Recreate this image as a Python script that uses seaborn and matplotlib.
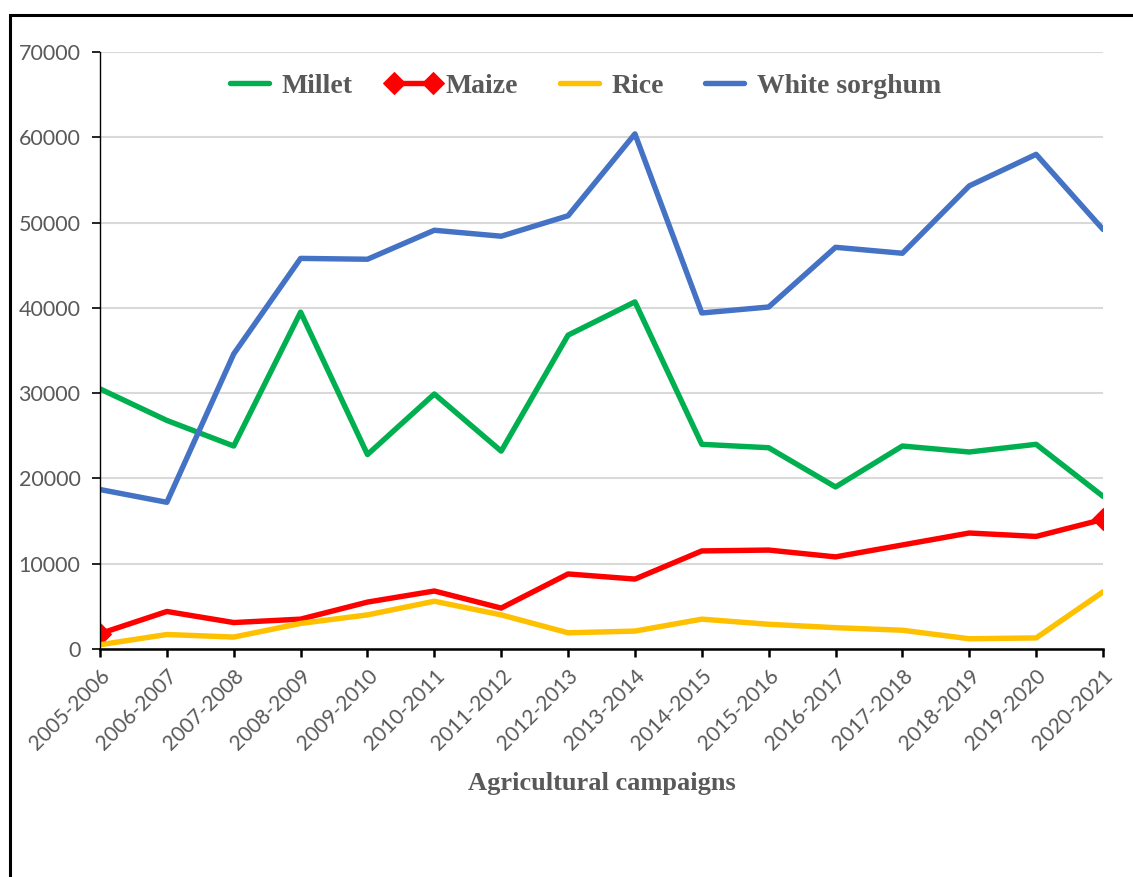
import matplotlib
matplotlib.use("Agg")
import matplotlib.pyplot as plt
from matplotlib.patches import Rectangle
import seaborn as sns
import pandas as pd

campaigns = ["2005-2006", "2006-2007", "2007-2008", "2008-2009", "2009-2010",
             "2010-2011", "2011-2012", "2012-2013", "2013-2014", "2014-2015",
             "2015-2016", "2016-2017", "2017-2018", "2018-2019", "2019-2020",
             "2020-2021"]
millet = [30500, 26800, 23800, 39500, 22800, 29900, 23200, 36800, 40700,
          24000, 23600, 19000, 23800, 23100, 24000, 17900]
maize = [1800, 4400, 3100, 3500, 5500, 6800, 4800, 8800, 8200,
         11500, 11600, 10800, 12200, 13600, 13200, 15200]
rice = [500, 1700, 1400, 3000, 4000, 5600, 4000, 1900, 2100,
        3500, 2900, 2500, 2200, 1200, 1300, 6700]
white_sorghum = [18700, 17200, 34600, 45800, 45700, 49100, 48400, 50800, 60400,
                 39400, 40100, 47100, 46400, 54300, 58000, 49200]

series_names = ["Millet", "Maize", "Rice", "White sorghum"]
colors = ["#00B050", "#FF0000", "#FFC000", "#4472C4"]

sns.set_theme(style="white")
plt.rcParams['font.family'] = ['Lato', 'DejaVu Sans']

fig = plt.figure(figsize=(11.33, 8.77), dpi=100)
ax = fig.add_axes([100/1133, 1-649/877, (1103-100)/1133, (649-52)/877])

x = list(range(len(campaigns)))
for name, vals, col in zip(series_names, [millet, maize, rice, white_sorghum], colors):
    df = pd.DataFrame({"x": x, "y": vals})
    kw = {}
    if name == "Maize":
        kw = dict(marker="D", markersize=11, markevery=[0, len(x)-1],
                  markeredgecolor=col, markerfacecolor=col)
    sns.lineplot(data=df, x="x", y="y", ax=ax, color=col, linewidth=3.9,
                 label=name, solid_capstyle="round", solid_joinstyle="round", **kw)

ax.set_xlim(0, len(campaigns)-1)
ax.set_ylim(0, 70000)
ax.set_yticks(range(0, 70001, 10000))
ax.set_xticks(x)
ax.set_xticklabels(campaigns, rotation=45, ha="right", rotation_mode="anchor",
                   color="#595959", fontsize=15)
ax.set_yticklabels([str(v) for v in range(0, 70001, 10000)], color="#595959", fontsize=15.5)
ax.grid(axis="y", color="#D9D9D9", linewidth=1.5)
ax.set_axisbelow(True)
for s in ["top", "right"]:
    ax.spines[s].set_visible(False)
ax.spines["left"].set_color("black")
ax.spines["left"].set_linewidth(1.0)
ax.spines["bottom"].set_color("black")
ax.spines["bottom"].set_linewidth(1.8)
ax.tick_params(axis="y", direction="out", length=6, width=1.2, color="black", left=True, pad=8)
ax.tick_params(axis="x", direction="out", length=6, width=1.8, color="black", bottom=True, pad=6)
ax.set_ylabel("")
ax.set_xlabel("Agricultural campaigns", fontsize=19, fontweight="bold",
              color="#595959", family="Liberation Serif", labelpad=13)

leg = ax.legend(loc="upper center", bbox_to_anchor=(0.48, 1.006), ncol=4, frameon=False,
                numpoints=2, handlelength=2.0, handletextpad=0.15, columnspacing=1.2,
                prop={"family": "Liberation Serif", "weight": "bold", "size": 20})
for t in leg.get_texts():
    t.set_color("#595959")

fig.patches.append(Rectangle((10/1133, -0.2), 1.2, 1.2 - 15/877, transform=fig.transFigure,
                             fill=False, edgecolor="black", linewidth=2.2, figure=fig))

fig.savefig("out.png", dpi=100, facecolor="white")
